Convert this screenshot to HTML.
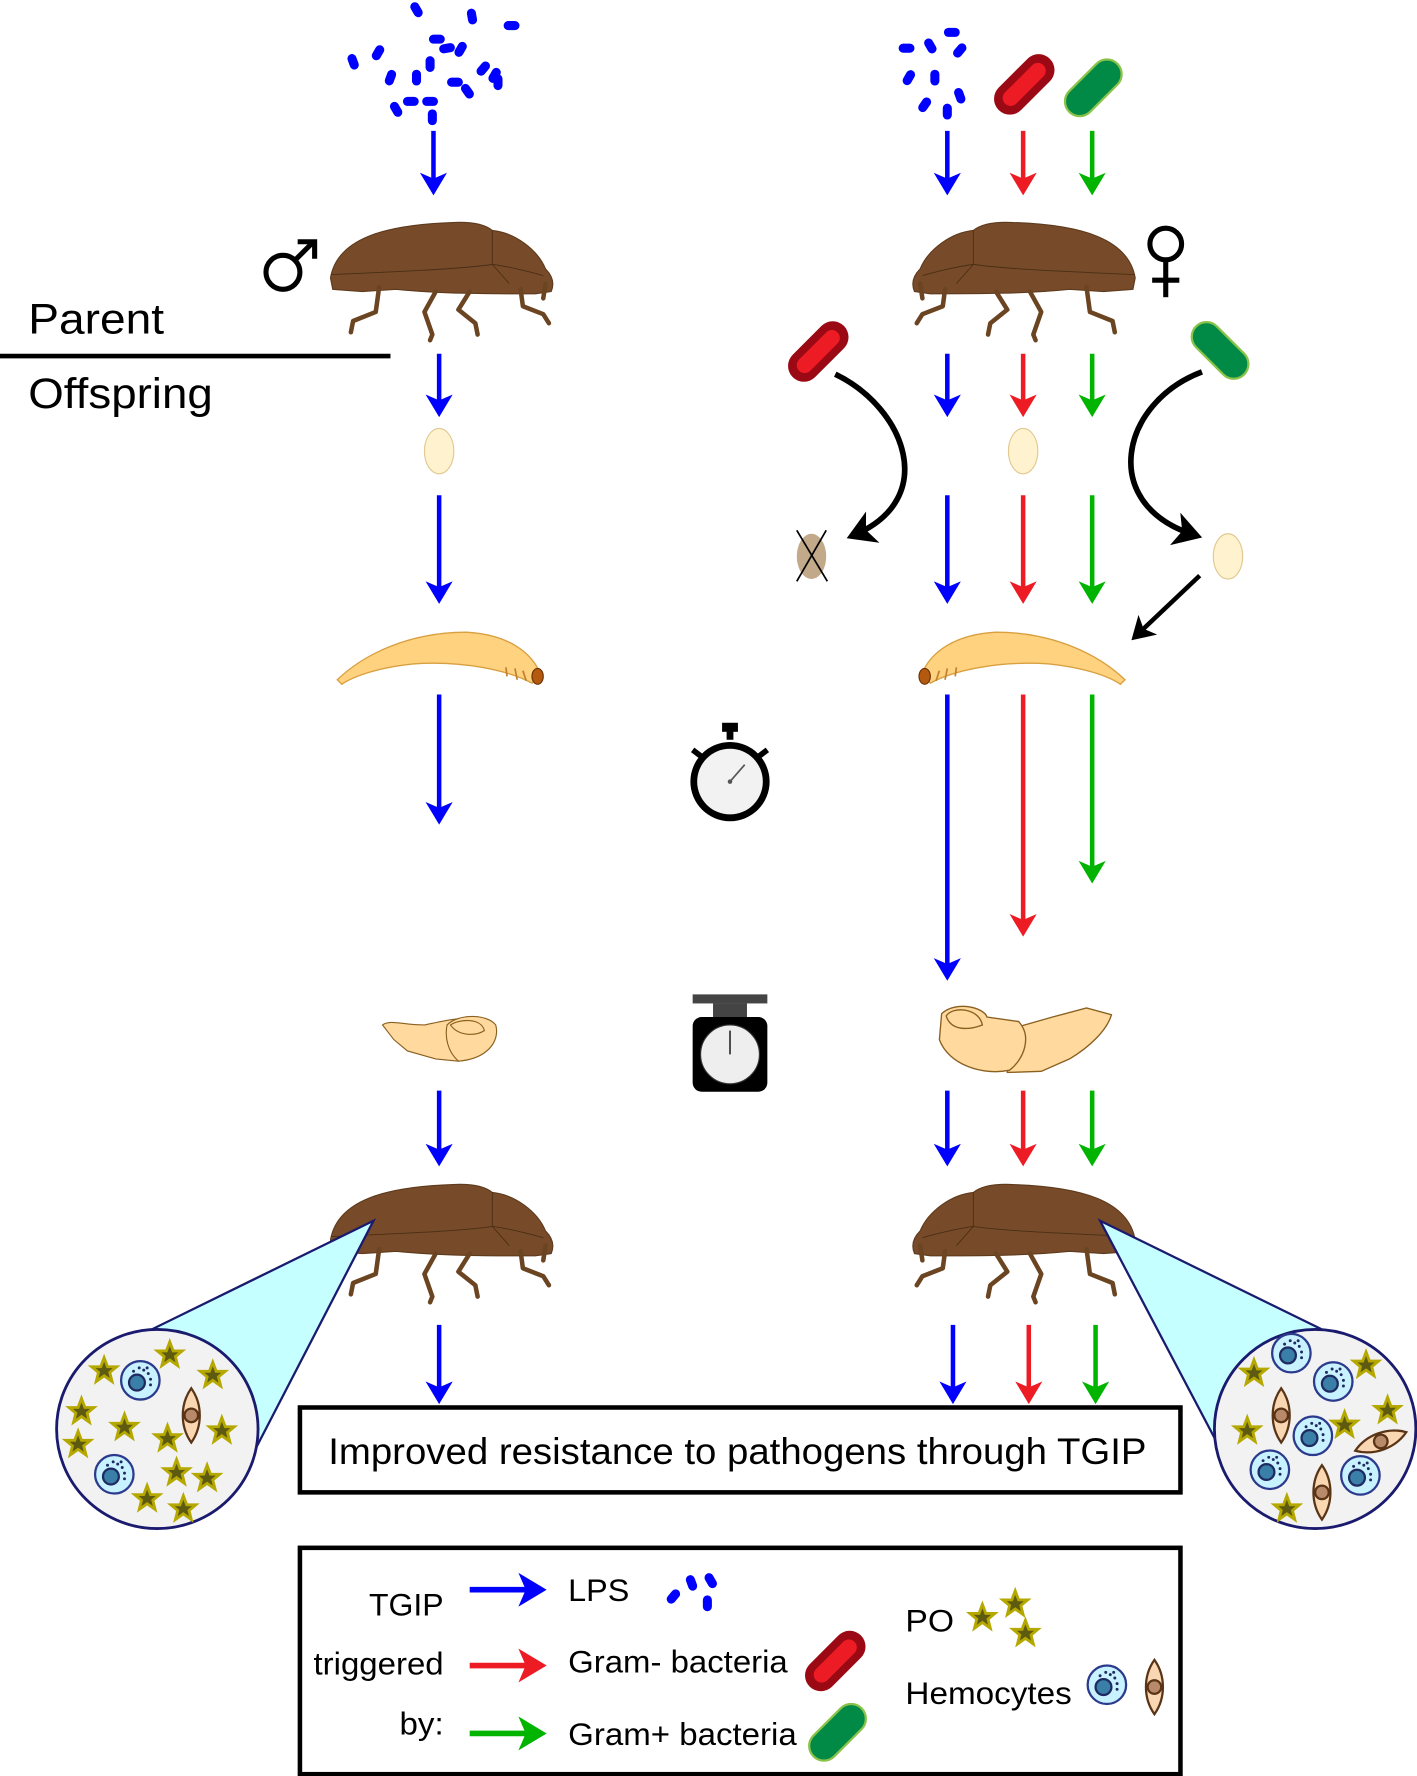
<!DOCTYPE html>
<html><head><meta charset="utf-8"><style>
html,body{margin:0;padding:0;background:#fff}
svg{display:block}
text{font-family:"Liberation Sans",sans-serif}
</style></head><body>
<svg width="1417" height="1776" viewBox="0 0 1252 1568" xmlns="http://www.w3.org/2000/svg">
<defs>
<marker id="mb" markerWidth="6" markerHeight="6" refX="4" refY="3" orient="auto" markerUnits="strokeWidth"><path d="M0,0 L5,3 L0,6 L1.3,3 Z" fill="#0000ff"/></marker>
<marker id="mr" markerWidth="6" markerHeight="6" refX="4" refY="3" orient="auto" markerUnits="strokeWidth"><path d="M0,0 L5,3 L0,6 L1.3,3 Z" fill="#ed1c24"/></marker>
<marker id="mg" markerWidth="6" markerHeight="6" refX="4" refY="3" orient="auto" markerUnits="strokeWidth"><path d="M0,0 L5,3 L0,6 L1.3,3 Z" fill="#00b400"/></marker>
<marker id="mk" markerWidth="6" markerHeight="6" refX="3.5" refY="3" orient="auto" markerUnits="strokeWidth"><path d="M0,0 L5,3 L0,6 L1.3,3 Z" fill="#000"/></marker>
<g id="beetle">
<path d="M2,50 C8,15 50,3 110,1 C130,0 140,4 145,8 C165,10 185,25 192,42 C198,48 200,55 197,62 L183,64 C140,64 100,64 60,60 L30,62 L4,60 Z" fill="#774b29" stroke="#5e3a1c" stroke-width="1"/>
<path d="M3,47 C50,45 120,42 145,38 L145,8 M145,38 L160,55 M145,38 C160,40 180,45 190,48" fill="none" stroke="#4a2e16" stroke-width="0.8"/>
<g fill="none" stroke="#6b4422" stroke-width="4" stroke-linecap="round" stroke-linejoin="round">
<path d="M45,58 L42,80 L22,88 L20,98"/>
<path d="M95,62 L85,80 L92,100 L90,105"/>
<path d="M125,62 L115,78 L130,90 L132,100"/>
<path d="M170,60 L172,75 L190,82 L195,90"/>
<path d="M192,55 L190,68"/>
</g>
</g>
<g id="egg"><ellipse cx="0" cy="0" rx="13" ry="20" fill="#fff2cf" stroke="#e0c890" stroke-width="1"/></g>
<g id="star"><path d="M0,-11 L3,-3 L11,-3 L5,2 L7,10 L0,5 L-7,10 L-5,2 L-11,-3 L-3,-3 Z" fill="#5e5a10" stroke="#b5a800" stroke-width="2.5"/></g>
<g id="cell"><circle r="17" fill="#c8f2ff" stroke="#2b3a8c" stroke-width="2"/><circle r="7" cx="-3" cy="2" fill="#3a7fa8" stroke="#1f2a60" stroke-width="2"/><g fill="#1f2a60"><circle cx="3" cy="-9" r="1.3"/><circle cx="7" cy="-6" r="1.3"/><circle cx="9" cy="-1" r="1.3"/><circle cx="-1" cy="-11" r="1.3"/><circle cx="6" cy="-11" r="1.3"/><circle cx="9" cy="4" r="1.3"/><circle cx="-6" cy="-8" r="1.3"/></g></g>
<g id="spindle"><path d="M0,-24 C10,-10 10,10 0,24 C-10,10 -10,-10 0,-24 Z" fill="#fad7b3" stroke="#5a3416" stroke-width="2"/><circle r="6" fill="#b88a6a" stroke="#5a3416" stroke-width="2"/></g>
<g id="redb"><rect x="-32" y="-14" width="64" height="28" rx="14" fill="#9b0a14"/><rect x="-24" y="-7" width="48" height="14" rx="7" fill="#ed1c24"/></g>
<g id="greenb"><rect x="-30" y="-13" width="60" height="26" rx="13" fill="#008a45" stroke="#8bc34a" stroke-width="2"/></g>
<g id="lps"><rect x="-4" y="-7" width="8" height="14" rx="4" fill="#0000ff"/></g>
</defs>

<!-- LPS clouds top left -->
<g>
<use href="#lps" transform="translate(368,8) rotate(-30)"/>
<use href="#lps" transform="translate(386,34) rotate(90)"/>
<use href="#lps" transform="translate(368,68) rotate(0)"/>
<use href="#lps" transform="translate(363,89) rotate(90)"/>
<use href="#lps" transform="translate(417,14) rotate(-10)"/>
<use href="#lps" transform="translate(452,22) rotate(90)"/>
<use href="#lps" transform="translate(395,42) rotate(80)"/>
<use href="#lps" transform="translate(407,43) rotate(30)"/>
<use href="#lps" transform="translate(437,66) rotate(30)"/>
<use href="#lps" transform="translate(350,96) rotate(-30)"/>
<use href="#lps" transform="translate(382,103) rotate(0)"/>
<use href="#lps" transform="translate(402,72) rotate(90)"/>
<use href="#lps" transform="translate(312,54) rotate(-20)"/>
<use href="#lps" transform="translate(334,46) rotate(30)"/>
<use href="#lps" transform="translate(427,60) rotate(40)"/>
<use href="#lps" transform="translate(440,72) rotate(0)"/>
<use href="#lps" transform="translate(413,80) rotate(-35)"/>
<use href="#lps" transform="translate(380,89) rotate(90)"/>
<use href="#lps" transform="translate(345,68) rotate(20)"/>
<use href="#lps" transform="translate(380,56) rotate(0)"/>
</g>
<!-- LPS top right -->
<g>
<use href="#lps" transform="translate(801,42) rotate(90)"/>
<use href="#lps" transform="translate(822,40) rotate(-30)"/>
<use href="#lps" transform="translate(841,28) rotate(90)"/>
<use href="#lps" transform="translate(848,44) rotate(40)"/>
<use href="#lps" transform="translate(803,68) rotate(30)"/>
<use href="#lps" transform="translate(826,68) rotate(0)"/>
<use href="#lps" transform="translate(817,92) rotate(35)"/>
<use href="#lps" transform="translate(837,98) rotate(0)"/>
<use href="#lps" transform="translate(848,84) rotate(-20)"/>
</g>
<use href="#redb" transform="translate(905,74) rotate(-45)"/>
<use href="#greenb" transform="translate(966,77) rotate(-45)"/>

<!-- arrows -->
<g stroke-width="4" fill="none">
<line x1="383" y1="115" x2="383" y2="168" stroke="#0000ff" marker-end="url(#mb)"/>
<line x1="837" y1="115" x2="837" y2="168" stroke="#0000ff" marker-end="url(#mb)"/>
<line x1="904" y1="115" x2="904" y2="168" stroke="#ed1c24" marker-end="url(#mr)"/>
<line x1="965" y1="115" x2="965" y2="168" stroke="#00b400" marker-end="url(#mg)"/>

<line x1="388" y1="312" x2="388" y2="364" stroke="#0000ff" marker-end="url(#mb)"/>
<line x1="837" y1="312" x2="837" y2="364" stroke="#0000ff" marker-end="url(#mb)"/>
<line x1="904" y1="312" x2="904" y2="364" stroke="#ed1c24" marker-end="url(#mr)"/>
<line x1="965" y1="312" x2="965" y2="364" stroke="#00b400" marker-end="url(#mg)"/>

<line x1="388" y1="437" x2="388" y2="529" stroke="#0000ff" marker-end="url(#mb)"/>
<line x1="837" y1="437" x2="837" y2="529" stroke="#0000ff" marker-end="url(#mb)"/>
<line x1="904" y1="437" x2="904" y2="529" stroke="#ed1c24" marker-end="url(#mr)"/>
<line x1="965" y1="437" x2="965" y2="529" stroke="#00b400" marker-end="url(#mg)"/>

<line x1="388" y1="613" x2="388" y2="724" stroke="#0000ff" marker-end="url(#mb)"/>
<line x1="837" y1="613" x2="837" y2="862" stroke="#0000ff" marker-end="url(#mb)"/>
<line x1="904" y1="613" x2="904" y2="823" stroke="#ed1c24" marker-end="url(#mr)"/>
<line x1="965" y1="613" x2="965" y2="776" stroke="#00b400" marker-end="url(#mg)"/>

<line x1="388" y1="963" x2="388" y2="1026" stroke="#0000ff" marker-end="url(#mb)"/>
<line x1="837" y1="963" x2="837" y2="1026" stroke="#0000ff" marker-end="url(#mb)"/>
<line x1="904" y1="963" x2="904" y2="1026" stroke="#ed1c24" marker-end="url(#mr)"/>
<line x1="965" y1="963" x2="965" y2="1026" stroke="#00b400" marker-end="url(#mg)"/>

<line x1="388" y1="1170" x2="388" y2="1236" stroke="#0000ff" marker-end="url(#mb)"/>
<line x1="842" y1="1170" x2="842" y2="1236" stroke="#0000ff" marker-end="url(#mb)"/>
<line x1="909" y1="1170" x2="909" y2="1236" stroke="#ed1c24" marker-end="url(#mr)"/>
<line x1="968" y1="1170" x2="968" y2="1236" stroke="#00b400" marker-end="url(#mg)"/>

<path d="M738,330 C800,360 830,440 755,472" stroke="#000" stroke-width="5" marker-end="url(#mk)"/>
<path d="M1062,328 C990,355 970,445 1055,472" stroke="#000" stroke-width="5" marker-end="url(#mk)"/>
<line x1="1060" y1="508" x2="1004" y2="561" stroke="#000" stroke-width="4" marker-end="url(#mk)"/>
</g>

<!-- beetles -->
<use href="#beetle" transform="translate(290,195)"/>
<use href="#beetle" transform="translate(1005,195) scale(-1,1)"/>
<use href="#beetle" transform="translate(290,1045)"/>
<use href="#beetle" transform="translate(1005,1045) scale(-1,1)"/>

<!-- sex symbols -->
<g fill="none" stroke="#000" stroke-width="4.5">
<circle cx="250" cy="240" r="15"/>
<line x1="261" y1="229" x2="277" y2="213"/>
<polyline points="263,213 278,213 278,228"/>
<circle cx="1030" cy="215" r="14"/>
<line x1="1030" y1="229" x2="1030" y2="262"/>
<line x1="1018" y1="247" x2="1042" y2="247"/>
</g>

<text x="25" y="294" font-size="38" textLength="120" lengthAdjust="spacingAndGlyphs">Parent</text>
<line x1="0" y1="314" x2="345" y2="314" stroke="#000" stroke-width="4"/>
<text x="25" y="360" font-size="38" textLength="163" lengthAdjust="spacingAndGlyphs">Offspring</text>

<!-- eggs -->
<use href="#egg" transform="translate(388,398)"/>
<use href="#egg" transform="translate(904,398)"/>
<use href="#egg" transform="translate(1085,491)"/>
<ellipse cx="717" cy="491" rx="13" ry="20" fill="#c2a98a"/>
<line x1="704" y1="468" x2="731" y2="513" stroke="#000" stroke-width="1.5"/>
<line x1="730" y1="468" x2="704" y2="513" stroke="#000" stroke-width="1.5"/>

<use href="#redb" transform="translate(723,310) rotate(-45)"/>
<use href="#greenb" transform="translate(1078,309) rotate(45)"/>

<!-- larvae -->
<g id="larva">
<path d="M298,600 C322,577 362,558 412,558 C448,560 470,575 478,596 L470,603 C450,592 410,583 365,586 C335,589 312,597 302,604 Z" fill="#ffd27f" stroke="#d9a040" stroke-width="1.2"/>
<path d="M455,590 l2,10 M462,592 l3,9 M447,589 l1,8" stroke="#c08030" stroke-width="1.5"/>
<ellipse cx="475" cy="597" rx="5" ry="7" fill="#b35a10" stroke="#6b3000" stroke-width="1"/>
</g>
<use href="#larva" transform="translate(1292,0) scale(-1,1)"/>

<!-- stopwatch -->
<g>
<rect x="638" y="638" width="14" height="8" fill="#000"/>
<rect x="642" y="645" width="6" height="8" fill="#000"/>
<line x1="612" y1="662" x2="620" y2="668" stroke="#000" stroke-width="5"/>
<line x1="678" y1="662" x2="670" y2="668" stroke="#000" stroke-width="5"/>
<circle cx="645" cy="690" r="35" fill="#000"/>
<circle cx="645" cy="690" r="29" fill="#f2f2f2"/>
<line x1="645" y1="690" x2="658" y2="675" stroke="#555" stroke-width="1.5"/>
<circle cx="645" cy="690" r="2" fill="#555"/>
</g>

<!-- pupae -->
<g>
<path d="M338,905 C345,900 355,905 375,905 C390,902 405,898 415,900 L420,910 C425,925 415,935 405,937 L385,935 L360,928 L348,918 Z" fill="#ffd99e" stroke="#8a6020" stroke-width="1"/>
<path d="M395,905 C405,895 430,895 438,905 C442,920 430,935 405,937 C395,928 393,915 395,905 Z" fill="#ffd99e" stroke="#8a6020" stroke-width="1"/>
<path d="M398,905 C405,900 425,898 428,910 C420,915 405,915 398,905 Z" fill="#ffd99e" stroke="#8a6020" stroke-width="1"/>
</g>
<g>
<path d="M895,908 L930,898 L960,890 L982,896 C978,910 962,925 945,935 L920,946 L890,947 Z" fill="#ffd99e" stroke="#8a6020" stroke-width="1.2"/>
<path d="M832,895 C845,883 870,890 872,898 L900,902 C912,915 905,935 892,945 C868,950 838,940 830,918 Z" fill="#ffd99e" stroke="#8a6020" stroke-width="1.2"/>
<path d="M836,897 C842,888 865,890 868,905 C855,910 840,910 836,897 Z" fill="#ffd99e" stroke="#8a6020" stroke-width="1.2"/>
</g>

<!-- scale -->
<g>
<rect x="612" y="878" width="66" height="8" fill="#444"/>
<rect x="630" y="886" width="30" height="12" fill="#444"/>
<rect x="612" y="898" width="66" height="66" rx="8" fill="#000"/>
<circle cx="645" cy="931" r="26" fill="#eee" stroke="#333" stroke-width="1"/>
<line x1="645" y1="931" x2="645" y2="910" stroke="#333" stroke-width="1.5"/>
</g>

<!-- cones -->
<path d="M330,1078 L128,1177 L224,1283 Z" fill="#c6ffff" stroke="#1a1a6e" stroke-width="2"/>
<path d="M972,1078 L1174,1177 L1080,1283 Z" fill="#c6ffff" stroke="#1a1a6e" stroke-width="2"/>

<!-- circles -->
<ellipse cx="139" cy="1262" rx="89" ry="88" fill="#f2f2f2" stroke="#1a1a6e" stroke-width="2.5"/>
<ellipse cx="1162" cy="1262" rx="89" ry="88" fill="#f2f2f2" stroke="#1a1a6e" stroke-width="2.5"/>
<g>
<use href="#star" transform="translate(92,1210)"/>
<use href="#star" transform="translate(150,1196)"/>
<use href="#star" transform="translate(188,1214)"/>
<use href="#star" transform="translate(72,1246)"/>
<use href="#star" transform="translate(110,1260)"/>
<use href="#star" transform="translate(69,1275)"/>
<use href="#star" transform="translate(148,1270)"/>
<use href="#star" transform="translate(196,1263)"/>
<use href="#star" transform="translate(156,1300)"/>
<use href="#star" transform="translate(183,1305)"/>
<use href="#star" transform="translate(130,1323)"/>
<use href="#star" transform="translate(162,1332)"/>
<use href="#cell" transform="translate(124,1219)"/>
<use href="#cell" transform="translate(101,1302)"/>
<use href="#spindle" transform="translate(169,1250)"/>
</g>
<g>
<use href="#star" transform="translate(1108,1212)"/>
<use href="#star" transform="translate(1207,1205)"/>
<use href="#star" transform="translate(1226,1245)"/>
<use href="#star" transform="translate(1102,1263)"/>
<use href="#star" transform="translate(1188,1258)"/>
<use href="#star" transform="translate(1137,1332)"/>
<use href="#cell" transform="translate(1141,1195)"/>
<use href="#cell" transform="translate(1178,1220)"/>
<use href="#cell" transform="translate(1160,1268)"/>
<use href="#cell" transform="translate(1122,1298)"/>
<use href="#cell" transform="translate(1202,1303)"/>
<use href="#spindle" transform="translate(1132,1250)"/>
<use href="#spindle" transform="translate(1168,1318)"/>
<use href="#spindle" transform="translate(1220,1273) rotate(70)"/>
</g>

<!-- result box -->
<rect x="265" y="1243" width="778" height="75" fill="#fff" stroke="#000" stroke-width="4"/>
<text x="290" y="1293" font-size="33" textLength="723" lengthAdjust="spacingAndGlyphs">Improved resistance to pathogens through TGIP</text>

<!-- legend -->
<rect x="265" y="1367" width="778" height="200" fill="#fff" stroke="#000" stroke-width="4"/>
<g font-size="28">
<text x="326" y="1427" textLength="66" lengthAdjust="spacingAndGlyphs">TGIP</text>
<text x="277" y="1479" textLength="115" lengthAdjust="spacingAndGlyphs">triggered</text>
<text x="353" y="1532" textLength="39" lengthAdjust="spacingAndGlyphs">by:</text>
<text x="502" y="1414" textLength="54" lengthAdjust="spacingAndGlyphs">LPS</text>
<text x="502" y="1477" textLength="194" lengthAdjust="spacingAndGlyphs">Gram- bacteria</text>
<text x="502" y="1541" textLength="202" lengthAdjust="spacingAndGlyphs">Gram+ bacteria</text>
<text x="800" y="1441" textLength="43" lengthAdjust="spacingAndGlyphs">PO</text>
<text x="800" y="1505" textLength="147" lengthAdjust="spacingAndGlyphs">Hemocytes</text>
</g>
<g stroke-width="5" fill="none">
<line x1="415" y1="1404" x2="478" y2="1404" stroke="#0000ff" marker-end="url(#mb)"/>
<line x1="415" y1="1471" x2="478" y2="1471" stroke="#ed1c24" marker-end="url(#mr)"/>
<line x1="415" y1="1531" x2="478" y2="1531" stroke="#00b400" marker-end="url(#mg)"/>
</g>
<use href="#lps" transform="translate(595,1410) rotate(40)"/>
<use href="#lps" transform="translate(611,1398) rotate(-20)"/>
<use href="#lps" transform="translate(628,1396) rotate(-30)"/>
<use href="#lps" transform="translate(625,1416) rotate(0)"/>
<use href="#redb" transform="translate(738,1467) rotate(-45)"/>
<use href="#greenb" transform="translate(740,1530) rotate(-45)"/>
<use href="#star" transform="translate(868,1428)"/>
<use href="#star" transform="translate(897,1416)"/>
<use href="#star" transform="translate(906,1442)"/>
<use href="#cell" transform="translate(978,1488)"/>
<use href="#spindle" transform="translate(1020,1490)"/>
</svg>
</body></html>
